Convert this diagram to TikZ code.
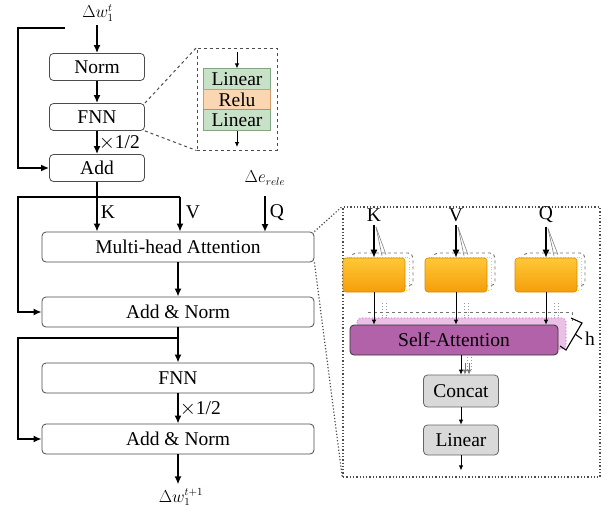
\documentclass[tikz,border=0pt]{standalone}
\usepackage{amsmath}
\usepackage{fontspec}
\setmainfont{Liberation Serif}
\usetikzlibrary{arrows.meta,positioning,calc}

\definecolor{lingreen}{RGB}{200,226,200}
\definecolor{lingreend}{RGB}{130,165,130}
\definecolor{relufill}{RGB}{250,214,178}
\definecolor{reludraw}{RGB}{215,155,105}
\definecolor{orgtop}{RGB}{255,200,55}
\definecolor{orgbot}{RGB}{245,158,10}
\definecolor{orgdraw}{RGB}{215,140,0}
\definecolor{safill}{RGB}{178,98,168}
\definecolor{sashade}{RGB}{222,150,215}

\begin{document}
\begin{tikzpicture}[
    x=1pt, y=-1pt,
    font=\fontsize{19.5}{21}\selectfont,
    arr/.style={-{Latex[length=8pt,width=7pt]}, line width=1.6pt},
    tarr/.style={-{Latex[length=5pt,width=4.5pt]}, line width=0.8pt},
    blk/.style={draw=black!70, line width=0.8pt, rounded corners=4pt,
        fill=white, inner sep=0pt},
    small/.style={minimum width=95pt, minimum height=27pt},
    wide/.style={minimum width=272pt, minimum height=30pt},
    layer/.style={draw, line width=0.8pt, inner sep=0pt,
        minimum width=67pt, minimum height=20.5pt},
    proj/.style={draw=orgdraw, line width=0.6pt, rounded corners=3pt,
        top color=orgtop, bottom color=orgbot,
        minimum width=62pt, minimum height=34pt},
    ghost/.style={draw=black!55, dashed, line width=0.9pt, rounded corners=5pt},
    gbox/.style={draw=black!60, line width=0.8pt, rounded corners=4pt,
        fill=black!15, inner sep=0pt, minimum width=75pt},
    zoomline/.style={dotted, line width=1.2pt, black!70},
    mlab/.style={font=\fontsize{16}{18}\selectfont, inner sep=0pt},
]
\useasboundingbox (0,0) rectangle (608,512);

% ---- left column, first block
\node[mlab] (win) at (98,13) {$\Delta w_1^t$};
\node[blk, small] (norm) at (97,67) {Norm};
\node[blk, small] (fnn1) at (97,117) {FNN};
\node[blk, small] (add) at (97,168) {Add};
\coordinate (skip1) at (65,28);

\draw[arr] (97,25) -- (norm.north);
\draw[arr] (norm) -- (fnn1);
\draw[arr] (fnn1) -- node[right, inner sep=1pt] {$\times$1/2} (add);
\draw[arr] (skip1) -- ++(-47,0) |- (add.west);

% FNN zoom
\node[draw=black!70, dashed, line width=1pt, minimum width=80pt,
      minimum height=102pt] (fzoom) at (237,99) {};
\node[layer, draw=lingreend, fill=lingreen] (lin1) at (237,79) {Linear};
\node[layer, draw=reludraw, fill=relufill] (relu) at (237,99.5) {Relu};
\node[layer, draw=lingreend, fill=lingreen] (lin2) at (237,120) {Linear};
\draw[tarr] (fzoom.north |- 0,52) -- (lin1.north);
\draw[tarr] (lin2.south) -- (lin2.south |- 0,147);
\draw[dashed, line width=1pt, black!70] (fnn1.north east) -- (fzoom.north west);
\draw[dashed, line width=1pt, black!70] (fnn1.south east) -- (fzoom.south west);

% ---- attention block
\node[blk, wide] (mha) at (178,247) {Multi-head Attention};
\node[blk, wide] (an1) at (178,312) {Add \& Norm};
\node[blk, wide] (fnn2) at (178,378) {FNN};
\node[blk, wide] (an2) at (178,439) {Add \& Norm};
\node[mlab] (wout) at (181,497) {$\Delta w_1^{t+1}$};
\node[mlab] (erel) at (265,178) {$\Delta e_{rele}$};

\coordinate (kv) at (180,197);
\coordinate (kk) at (97,197);
\coordinate (skip2) at (178,338);

\draw[line width=1.6pt] (add.south) -- (kk);
\draw[arr] (kk) -- node[right, pos=0.45, inner sep=3pt] {K} (kk |- mha.north);
\draw[arr] (kv) -- node[right, pos=0.45, inner sep=5pt] {V} (kv |- mha.north);
\draw[arr] (kv) -- ++(-162,0) |- (an1.west);
\draw[arr] (265,196) -- node[right, pos=0.45, inner sep=4pt] {Q} (265,232);
\draw[arr] (mha) -- (an1);
\draw[line width=1.6pt] (an1.south) -- (skip2);
\draw[arr] (skip2) -- (fnn2.north);
\draw[arr] (skip2) -- ++(-160,0) |- (an2.west);
\draw[arr] (fnn2) -- node[right, inner sep=1pt] {$\times$1/2} (an2);
\draw[arr] (an2.south) -- ++(0,30);

% ---- multi-head zoom
\node[draw=black!70, dotted, line width=1.3pt, minimum width=257pt,
      minimum height=270pt] (hzoom) at (471.5,342) {};
\draw[zoomline] (mha.north east) -- (hzoom.north west);
\draw[zoomline] (mha.south east) -- (hzoom.south west);

% projections (stacked heads)
\foreach \nm/\xx/\lb in {pk/374/K, pv/456/V, pq/546/Q}{
  \draw[ghost] (\xx-23,253) rectangle (\xx+39,286);
  \draw[orgtop, dotted, line width=0.8pt] (\xx-27,257) rectangle (\xx+35,290);
  \node[proj] (\nm) at (\xx,275) {};
  \node (\nm l) at (\xx,215) {\lb};
  \draw[black!50, line width=0.6pt] (\nm l.south) ++(2,2) -- ($(\nm.north)+(12,-3)$);
  \draw[black!50, line width=0.6pt] (\nm l.south) ++(2,2) -- ($(\nm.north)+(8,-2)$);
  \draw[arr, line width=1.4pt] (\nm l.south) -- (\nm.north);
  \draw[black!40, dotted, line width=0.8pt] ($(\nm.south)+(8,11)$) -- ++(0,26);
  \draw[black!40, dotted, line width=0.8pt] ($(\nm.south)+(12,11)$) -- ++(0,26);
}

% self-attention with stacked copies
\draw[ghost, rounded corners=0pt] (368,312) -- (572,312) -- (572,322);
\draw[draw=sashade, fill=sashade!60, dotted, line width=1.2pt, rounded corners=4pt]
    (357,318) rectangle (566,349);
\node[draw=black!80, line width=0.8pt, fill=safill, text=black, rounded corners=4pt,
      minimum width=208pt, minimum height=30pt, inner sep=0pt] (sa) at (454,340) {Self-Attention};
\foreach \nm in {pk, pv, pq}
  \draw[tarr] (\nm.south) -- (\nm.south |- sa.north);

% h bracket
\draw[line width=1.1pt] (571,318) -- (582,323) -- (566,350) -- (560,346);
\draw[line width=1.1pt] (575,334) -- (582,339);
\node[inner sep=0pt] (hl) at (590,339) {h};

% concat and output
\node[gbox, minimum height=32pt] (cat) at (461,391) {Concat};
\node[gbox, minimum height=30pt] (lin3) at (461,440) {Linear};
\draw[black!40, dotted, line width=0.8pt] ($(sa.south -| cat)+(6,2)$) -- ++(0,14);
\draw[black!40, dotted, line width=0.8pt] ($(sa.south -| cat)+(10,2)$) -- ++(0,14);
\draw[black!55, tarr] ($(sa.south -| cat)+(4,8)$) -- ($(cat.north)+(4,0)$);
\draw[black!55, tarr] ($(sa.south -| cat)+(8,8)$) -- ($(cat.north)+(8,0)$);
\draw[tarr] (sa.south -| cat) -- (cat.north);
\draw[tarr] (cat) -- (lin3);
\draw[tarr] (lin3.south) -- ++(0,15);

\end{tikzpicture}
\end{document}
